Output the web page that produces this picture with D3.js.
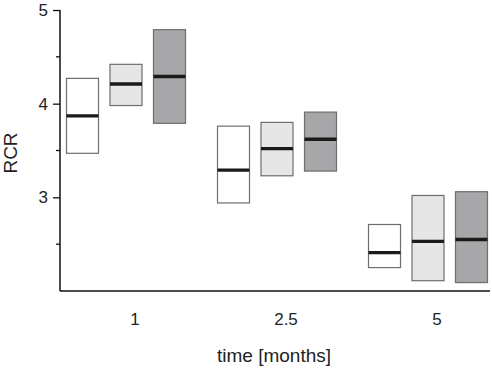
<!DOCTYPE html>
<html>
<head>
<meta charset="utf-8">
<script src="https://cdn.jsdelivr.net/npm/d3@7"></script>
<style>
html,body{margin:0;padding:0;background:#fff;}
svg{display:block;font-family:"Liberation Sans",Arial,sans-serif;}
</style>
</head>
<body>
<svg id="chart" width="492" height="371"></svg>
<script>
const times = ["1", "2.5", "5"];
const series = ["A", "B", "C"];
const fills = ["#ffffff", "#e6e6e6", "#a7a7a9"];
// [time][series]
const lowVals =    [[3.47, 3.98, 3.79], [2.94, 3.23, 3.28], [2.25, 2.11, 2.09]];
const highVals =   [[4.27, 4.42, 4.79], [3.76, 3.80, 3.91], [2.71, 3.02, 3.06]];
const medianVals = [[3.87, 4.21, 4.29], [3.29, 3.52, 3.62], [2.41, 2.53, 2.55]];
const yTicks = [3, 4, 5];
const yMinorTicks = [2.5, 3.5, 4.5];

const svg = d3.select("#chart");
const y = d3.scaleLinear().domain([2, 5]).range([291, 10]);
const x0 = d3.scaleBand().domain(times).range([59.5, 512.5]).padding(0);
const x1 = d3.scaleBand().domain(series).range([7, 126]).paddingInner(0.264).paddingOuter(0);
const color = d3.scaleOrdinal().domain(series).range(fills);

const data = [];
times.forEach((t, i) => series.forEach((s, j) => data.push({
  t, s, lo: lowVals[i][j], hi: highVals[i][j], med: medianVals[i][j]
})));

const g = svg.append("g");
g.selectAll("rect.box").data(data).join("rect")
  .attr("class", "box")
  .attr("x", d => x0(d.t) + x1(d.s))
  .attr("y", d => y(d.hi))
  .attr("width", x1.bandwidth())
  .attr("height", d => y(d.lo) - y(d.hi))
  .attr("fill", d => color(d.s))
  .attr("stroke", "#6e6e6e")
  .attr("stroke-width", 1.2);

g.selectAll("line.med").data(data).join("line")
  .attr("class", "med")
  .attr("x1", d => x0(d.t) + x1(d.s))
  .attr("x2", d => x0(d.t) + x1(d.s) + x1.bandwidth())
  .attr("y1", d => y(d.med))
  .attr("y2", d => y(d.med))
  .attr("stroke", "#1a1a1a")
  .attr("stroke-width", 3.4);

// Y axis
const yAxis = svg.append("g").attr("transform", "translate(60,0)")
  .call(d3.axisLeft(y).tickValues(yTicks).tickSize(7).tickPadding(5).tickFormat(d3.format("d")));
yAxis.select(".domain").remove();
yAxis.selectAll(".tick line").attr("stroke", "#111").attr("stroke-width", 1.3);
yAxis.selectAll(".tick text").attr("font-size", 17).attr("fill", "#222").attr("font-family", "Liberation Sans, Arial, sans-serif");
svg.append("g").selectAll("line").data(yMinorTicks).join("line")
  .attr("x1", 56).attr("x2", 60)
  .attr("y1", d => y(d)).attr("y2", d => y(d))
  .attr("stroke", "#111").attr("stroke-width", 1.3);
svg.append("line").attr("x1", 60).attr("x2", 60).attr("y1", y(5)).attr("y2", y(2))
  .attr("stroke", "#111").attr("stroke-width", 1.5);

// X axis
svg.append("line").attr("x1", 60).attr("x2", 490).attr("y1", y(2)).attr("y2", y(2))
  .attr("stroke", "#111").attr("stroke-width", 1.5);
const xAxis = svg.append("g").attr("transform", `translate(0,${y(2)})`)
  .call(d3.axisBottom(x0).tickSize(0).tickPadding(22));
xAxis.select(".domain").remove();
xAxis.selectAll(".tick text").attr("font-size", 17).attr("fill", "#222").attr("font-family", "Liberation Sans, Arial, sans-serif");

svg.append("text").attr("x", 274).attr("y", 362).attr("text-anchor", "middle")
  .attr("font-size", 19).attr("fill", "#222").text("time [months]");
svg.append("text").attr("transform", "translate(17,153) rotate(-90)").attr("text-anchor", "middle")
  .attr("font-size", 19).attr("fill", "#222").text("RCR");
</script>
</body>
</html>
